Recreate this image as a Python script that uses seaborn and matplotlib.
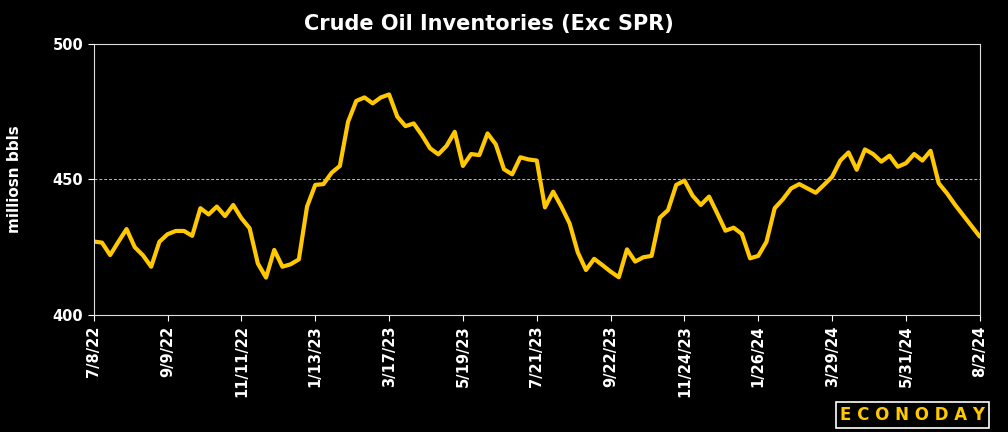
import pandas as pd
import matplotlib
matplotlib.use("Agg")
import matplotlib.pyplot as plt
import seaborn as sns

start_date = "2022-07-08"
inventories = [
    427.1, 426.7, 422.1, 427.0, 431.7, 425.0, 422.0, 417.8, 427.0, 429.8,
    431.0, 431.0, 429.2, 439.4, 437.1, 440.0, 436.5, 440.6, 435.7, 432.0,
    419.0, 413.8, 424.0, 417.8, 418.7, 420.5, 440.0, 448.0, 448.3, 452.5,
    455.0, 471.3, 479.0, 480.3, 478.1, 480.3, 481.4, 473.2, 469.7, 470.7,
    466.4, 461.5, 459.3, 462.4, 467.6, 455.0, 459.4, 459.0, 467.0, 463.0,
    453.8, 451.9, 458.2, 457.4, 457.0, 439.7, 445.5, 440.0, 433.8, 423.1,
    416.6, 420.7, 418.4, 416.0, 413.9, 424.2, 419.7, 421.3, 421.8, 435.9,
    438.7, 448.0, 449.6, 444.0, 440.6, 443.7, 437.5, 431.1, 432.2, 429.9,
    420.9, 421.8, 427.0, 439.4, 442.7, 446.7, 448.3, 446.7, 445.1, 448.0,
    451.0, 457.0, 460.0, 453.6, 461.1, 459.4, 456.6, 458.8, 454.7, 456.0,
    459.4, 457.0, 460.6, 448.6, 444.9, 440.6, 436.7, 432.8, 428.9,
]
dates = pd.date_range(start_date, periods=len(inventories), freq="7D")
df = pd.DataFrame({"date": dates, "value": inventories})

sns.set_style("dark")
fig = plt.figure(figsize=(10.08, 4.32), dpi=100, facecolor="black")
ax = fig.add_axes([0.093, 0.271, 0.879, 0.627], facecolor="black")

sns.lineplot(data=df, x="date", y="value", ax=ax, color="#FFC800", linewidth=3)

ax.set_xlim(dates[0], dates[-1])
ax.set_ylim(400, 500)
ax.set_yticks([400, 450, 500])
ax.axhline(450, color="#BBBBBB", linestyle="--", linewidth=0.7, dashes=(3, 2))
ticks = dates[::9]
ax.set_xticks(ticks)
ax.set_xticklabels([f"{d.month}/{d.day}/{d.strftime('%y')}" for d in ticks],
                   rotation=90)
ax.tick_params(colors="white", labelsize=10.5, length=4, direction="out",
               bottom=True, left=True)
for lbl in ax.get_xticklabels() + ax.get_yticklabels():
    lbl.set_fontweight("bold")
for sp in ax.spines.values():
    sp.set_color("#DDDDDD")
    sp.set_visible(True)
ax.grid(False)
ax.set_xlabel("")
ax.set_ylabel("milliosn bbls", color="white", fontweight="bold", fontsize=11,
              labelpad=22)

fig.text(0.485, 0.945, "Crude Oil Inventories (Exc SPR)", color="white",
         fontsize=15, fontweight="bold", ha="center", va="center")
fig.text(0.905, 0.04, "E C O N O D A Y", color="#FFC800", fontsize=12,
         fontweight="bold", ha="center", va="center",
         bbox=dict(facecolor="black", edgecolor="white", linewidth=1.2,
                   boxstyle="square,pad=0.25"))

fig.savefig("out.png", dpi=100, facecolor="black")
